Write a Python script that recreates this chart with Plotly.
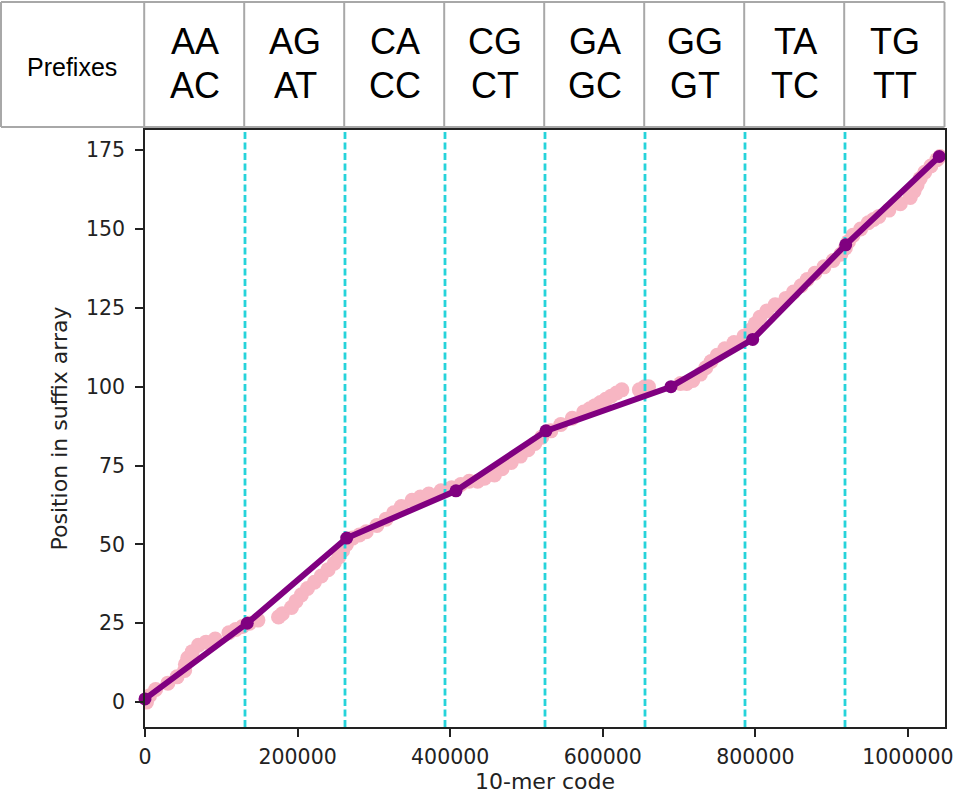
import plotly.graph_objects as go

# ---------------- data ----------------
prefix_header = "Prefixes"
prefix_top = ["AA", "AG", "CA", "CG", "GA", "GG", "TA", "TG"]
prefix_bottom = ["AC", "AT", "CC", "CT", "GC", "GT", "TC", "TT"]

# bucket boundaries of the 10-mer code space (4**10 split in 8)
bucket_edges = [0, 131072, 262144, 393216, 524288, 655360, 786432, 917504, 1048576]
boundary_codes = [131072, 262144, 393216, 524288, 655360, 786432, 917504]

# actual (code, suffix-array position) pairs  (pink)
pink_code = [2000, 6000, 14000, 30000, 42000, 52000, 53000, 56000, 62000, 70000,
             80000, 92000, 110000, 119000, 128000, 137000, 148000, 175000, 180000, 192000,
             198000, 205000, 213000, 222000, 231000, 240000, 248000, 254000, 259000, 264000,
             272000, 281000, 290000, 304000, 316000, 326000, 336000, 350000, 361000, 372000,
             388000, 402000, 414000, 425000, 436000, 445000, 458000, 468000, 480000, 492000,
             502000, 511000, 520000, 532000, 545000, 560000, 575000, 583000, 590000, 597000,
             604000, 611000, 618000, 625000, 648000, 655000, 660000, 702000, 710000, 718000,
             728000, 735000, 742000, 750000, 760000, 772000, 785000, 794000, 800000, 806000,
             815000, 826000, 840000, 850000, 860000, 868000, 878000, 890000, 902000, 912000,
             918000, 922000, 928000, 938000, 948000, 955000, 962000, 975000, 990000, 1003000,
             1008000, 1012000, 1016000, 1022000, 1030000, 1038000, 1042000]
pink_pos = [0, 2, 4, 6, 8, 10, 12, 14, 16, 18,
            19, 20, 22, 23, 24, 25, 26, 27, 28, 30,
            32, 34, 36, 38, 40, 42, 44, 46, 48, 50,
            52, 53, 54, 56, 58, 60, 62, 64, 65, 66,
            67, 68, 69, 70, 70, 71, 72, 74, 76, 78,
            80, 82, 84, 86, 88, 90, 92, 93, 94, 95,
            96, 97, 98, 99, 99, 100, 100, 101, 101, 102,
            104, 106, 108, 110, 112, 114, 116, 118, 120, 122,
            124, 126, 128, 130, 132, 134, 136, 138, 140, 142,
            144, 146, 148, 150, 152, 153, 154, 156, 158, 160,
            162, 164, 166, 168, 170, 172, 173]

# sampled index points (purple)
sample_code = [0, 134000, 264400, 407600, 525600, 689400, 796500, 918400, 1041000]
sample_pos = [1, 25, 52, 67, 86, 100, 115, 145, 173]

x_tickvals = [0, 200000, 400000, 600000, 800000, 1000000]
x_ticktext = ["0", "200000", "400000", "600000", "800000", "1000000"]
y_tickvals = [0, 25, 50, 75, 100, 125, 150, 175]
y_ticktext = ["0", "25", "50", "75", "100", "125", "150", "175"]

x_title = "10-mer code"
y_title = "Position in suffix array"

# ---------------- layout geometry ----------------
W, H = 955, 794
ML, MR, MT, MB = 145, 10, 130, 67
PW, PH = W - ML - MR, H - MT - MB
X_RANGE = [0, 1048576]
Y_RANGE = [-7.9, 181.4]


def px_to_paper_x(px):
    return (px - ML) / PW


def px_to_paper_y(py):
    return (H - MB - py) / PH


def code_to_paper_x(v):
    return (v - X_RANGE[0]) / (X_RANGE[1] - X_RANGE[0])


fig = go.Figure()

# pink actual points
fig.add_trace(go.Scatter(
    x=pink_code, y=pink_pos, mode="markers",
    marker=dict(size=15, color="#F7B6C3", line=dict(width=0)),
    hoverinfo="skip", showlegend=False))

# cyan dashed boundaries
for b in boundary_codes:
    fig.add_trace(go.Scatter(
        x=[b, b], y=Y_RANGE, mode="lines",
        line=dict(color="#26D3DA", width=2.8, dash="7px,3.5px"),
        hoverinfo="skip", showlegend=False, cliponaxis=True))

# purple sampled line
fig.add_trace(go.Scatter(
    x=sample_code, y=sample_pos, mode="lines+markers",
    line=dict(color="#800080", width=6),
    marker=dict(size=13, color="#800080"),
    hoverinfo="skip", showlegend=False, cliponaxis=False))

# ---------------- table on top ----------------
GRAY = "#A8A8A8"
t_top, t_bot = 2, 127
shapes = []
y0p, y1p = px_to_paper_y(t_bot), px_to_paper_y(t_top)
left_p = px_to_paper_x(1)
right_p = code_to_paper_x(bucket_edges[-1]) - 0.5 / PW
for yy in (y0p, y1p):
    shapes.append(dict(type="line", xref="paper", yref="paper",
                       x0=left_p, x1=right_p, y0=yy, y1=yy,
                       line=dict(color=GRAY, width=2)))
vx = [left_p] + [code_to_paper_x(e) - 0.8 / PW for e in bucket_edges]
vx[-1] = right_p
for xx in vx:
    shapes.append(dict(type="line", xref="paper", yref="paper",
                       x0=xx, x1=xx, y0=y0p, y1=y1p,
                       line=dict(color=GRAY, width=2)))

annotations = []
annotations.append(dict(xref="paper", yref="paper",
                        x=px_to_paper_x(72), y=px_to_paper_y(67),
                        text=prefix_header, showarrow=False,
                        xanchor="center", yanchor="middle",
                        font=dict(family="Arial, Liberation Sans", size=25, color="#000")))
for i in range(len(prefix_top)):
    cx = code_to_paper_x((bucket_edges[i] + bucket_edges[i + 1]) / 2)
    annotations.append(dict(xref="paper", yref="paper", x=cx, y=px_to_paper_y(41),
                            text=prefix_top[i], showarrow=False,
                            xanchor="center", yanchor="middle",
                            font=dict(family="Arial, Liberation Sans", size=36, color="#000")))
    annotations.append(dict(xref="paper", yref="paper", x=cx, y=px_to_paper_y(85),
                            text=prefix_bottom[i], showarrow=False,
                            xanchor="center", yanchor="middle",
                            font=dict(family="Arial, Liberation Sans", size=36, color="#000")))

AXC = "#222222"
TICKFONT = dict(family="DejaVu Sans", size=20.5, color="#222222")
TITLEFONT = dict(family="DejaVu Sans", size=22, color="#222222")
fig.update_layout(
    width=W, height=H,
    margin=dict(l=ML, r=MR, t=MT, b=MB, pad=0),
    paper_bgcolor="white", plot_bgcolor="white",
    shapes=shapes, annotations=annotations,
    xaxis=dict(range=X_RANGE, showgrid=False, zeroline=False, automargin=False,
               showline=True, linecolor=AXC, linewidth=1.6, mirror=True,
               ticks="outside", ticklen=8, tickwidth=1.6, tickcolor=AXC,
               ticklabelstandoff=3,
               tickvals=x_tickvals, ticktext=x_ticktext, tickfont=TICKFONT,
               title=dict(text=x_title, standoff=12, font=TITLEFONT)),
    yaxis=dict(range=Y_RANGE, showgrid=False, zeroline=False, automargin=False,
               showline=True, linecolor=AXC, linewidth=1.6, mirror=True,
               ticks="outside", ticklen=8, tickwidth=1.6, tickcolor=AXC,
               ticklabelstandoff=6,
               tickvals=y_tickvals, ticktext=y_ticktext, tickfont=TICKFONT,
               title=dict(text=y_title, standoff=12, font=TITLEFONT)),
)

fig.write_html("out.html")
